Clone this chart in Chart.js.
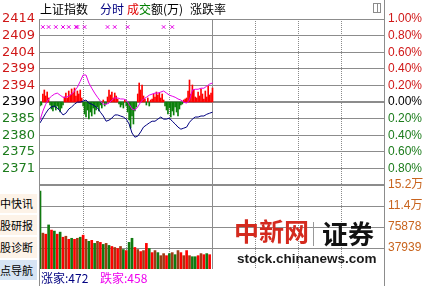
<!DOCTYPE html>
<html>
<head>
<meta charset="utf-8">
<script src="https://cdn.jsdelivr.net/npm/chart.js@4.4.1/dist/chart.umd.min.js"></script>
<style>
  html, body { margin:0; padding:0; background:#fff; }
  #wrap { position:relative; width:430px; height:286px; overflow:hidden; font-family:"Noto Sans CJK SC", sans-serif; }
  canvas { position:absolute; left:0; }
  #priceChart { top:0; z-index:2; }
  #volChart { top:170px; z-index:3; }
  .txt { position:absolute; white-space:nowrap; font-size:12px; line-height:14px; z-index:4; }
  .frame { position:absolute; width:1px; background:#8c8c8c; z-index:1; }
  .side { position:absolute; left:0; width:37px; font-size:11px; background:#fdf3e8; color:#000; overflow:hidden; white-space:nowrap; }
  .side.nav { background:#d6e4f4; }
  .logo { position:absolute; white-space:nowrap; z-index:5; }
</style>
</head>
<body>
<div id="wrap">
  <!-- title row -->
  <div class="txt" style="left:40px;top:2px;">上证指数</div>
  <div class="txt" style="left:100px;top:2px;color:#000080;">分时</div>
  <div class="txt" style="left:127px;top:2px;"><span style="color:#e00000">成</span><span style="color:#008000">交</span>额(万)</div>
  <div class="txt" style="left:190px;top:2px;">涨跌率</div>
  <div style="position:absolute;left:373px;top:3px;width:6px;height:8px;border:1px solid #8c8c8c;"></div>
  <div style="position:absolute;left:377px;top:3px;width:1px;height:10px;background:#8c8c8c;"></div>

  <!-- frame -->
  <div class="frame" style="left:39px;top:19px;height:267px;"></div>
  <div class="frame" style="left:384px;top:0;height:286px;"></div>

  <!-- cropped side menu -->
  <div class="side" style="top:194px;height:19px;line-height:19px;">中快讯</div>
  <div class="side" style="top:215px;height:20px;line-height:20px;">股研报</div>
  <div class="side" style="top:237px;height:21px;line-height:21px;">股诊断</div>
  <div class="side nav" style="top:260px;height:20px;line-height:20px;">点导航</div>

  <canvas id="priceChart" width="430" height="200"></canvas>
  <canvas id="volChart" width="430" height="116"></canvas>

  <!-- advance / decline counts -->
  <div class="txt" style="left:41px;top:271px;color:#000080;">涨家:472</div>
  <div class="txt" style="left:100px;top:271px;color:#ee00ee;">跌家:458</div>

  <!-- watermark -->
  <div class="logo" style="left:234px;top:214px;font-size:25px;line-height:32px;font-weight:700;color:#d42a1e;">中新网</div>
  <div class="logo" style="left:313px;top:222px;width:1px;height:24px;background:#999;"></div>
  <div class="logo" style="left:322px;top:217px;font-size:26px;line-height:32px;font-weight:700;color:#111;">证券</div>
  <div class="logo" style="left:237px;top:251px;font-family:'Liberation Sans',sans-serif;font-weight:700;font-size:13.5px;line-height:16px;color:#1a1a1a;">stock.chinanews.com</div>
</div>

<script>
/* ---------- DATA ---------- */
const prevClose = 2390.13;
const pctSteps = [-1, -0.8, -0.6, -0.4, -0.2, 0, 0.2, 0.4, 0.6, 0.8, 1];
// bottom -> top, same order as the ticks
const priceTickLabels = ["", "2371", "2375", "2380", "2385", "2390", "2394", "2399", "2404", "2409", "2414"];
const pctTickLabels = ["", "0.80%", "0.60%", "0.40%", "0.20%", "0.00%", "0.20%", "0.40%", "0.60%", "0.80%", "1.00%"];
const gridMinutes = [30, 60, 90, 150, 180, 210];
const noonMinutes = [120];

const lineMinutes = [0,2,4,6,8,10,12,14,16,18,20,22,24,26,28,30,32,34,36,38,40,42,44,46,48,50,52,54,56,58,
  60,62,64,66,68,70,72,74,76,78,80,82,84,86,88,90,92,94,96,98,100,102,104,106,108,110,112,114,116,118,120];
const indexLine = [2384.1,2385.5,2386.9,2388.1,2388.7,2389.0,2388.4,2387.5,2386.4,2386.9,
  2388.1,2388.7,2389.5,2390.1,2390.1,2390.4,2390.7,2389.8,2389.5,2389.0,
  2388.4,2387.2,2386.1,2384.6,2384.9,2385.5,2386.4,2386.4,2386.1,2385.8,
  2385.2,2383.8,2381.2,2380.0,2380.3,2381.5,2382.9,2383.5,2384.1,2384.6,
  2384.6,2385.2,2385.8,2385.2,2385.2,2385.5,2384.6,2383.8,2382.9,2382.3,
  2382.6,2382.9,2384.3,2385.2,2385.8,2385.8,2386.1,2386.1,2386.6,2386.9,2387.2];
const leadLine = [2384.9,2387.5,2389.5,2391.0,2391.8,2392.4,2392.7,2392.1,2391.5,2391.5,
  2391.8,2392.4,2393.3,2394.4,2396.1,2397.9,2397.9,2395.6,2394.1,2392.7,
  2391.5,2390.4,2389.5,2389.5,2389.8,2390.7,2391.3,2391.3,2391.0,2391.0,
  2390.7,2389.5,2388.1,2387.8,2388.7,2390.1,2391.0,2391.5,2392.1,2392.4,
  2392.7,2392.7,2393.0,2393.3,2392.7,2392.1,2391.8,2391.5,2391.0,2390.7,
  2390.1,2389.8,2390.7,2393.6,2393.8,2393.8,2394.1,2394.1,2394.7,2395.3,2395.6];
// one value per minute from 09:30, red up / green down
const powerBars = [-4,-3,8,12,6,10,4,-3,-7,-9,
  -5,-8,-4,-7,-10,-6,-3,5,9,4,
  11,7,13,9,14,6,11,8,12,4,
  -4,-12,-15,-8,-17,-10,-14,-6,-12,-8,
  -5,-9,-3,-6,2,-4,-2,5,12,7,
  10,4,9,6,3,-2,-5,-3,-6,2,
  -4,-10,-18,-26,-14,-22,-9,-5,8,19,
  12,17,6,3,-3,4,-4,2,3,8,
  5,10,7,9,4,8,2,-4,-8,-12,
  -6,-15,-9,-13,-5,-10,-14,-7,-3,-2,
  2,3,4,11,22,8,17,12,5,4,
  10,6,13,8,3,11,5,16,7,9,14];
const newsMinutes = [2, 6, 11, 16, 20, 25, 26, 31, 47, 52, 61, 86, 92];
const newsLevel = 75;

const volMinutes = [0,2,4,6,8,10,12,14,16,18,20,22,24,26,28,30,32,34,36,38,40,42,44,46,48,50,52,54,56,58,
  60,62,64,66,68,70,72,74,76,78,80,82,84,86,88,90,92,94,96,98,100,102,104,106,108,110,112,114,116,118];
const volumes = [140700,64800,62900,79600,70300,68500,62900,66600,57400,59200,
  53700,55500,53700,55500,57400,61100,53700,50000,51800,46300,
  50000,48100,44400,46300,42600,40700,38900,37000,40700,35200,
  33300,48100,55500,38900,35200,31500,33300,46300,37000,29600,
  33300,29600,24100,27800,24100,27800,29600,25900,33300,29600,
  24100,33300,24100,22200,22200,24100,27800,25900,27800,25900];
// 1 = up (red), -1 = down (green), 0 = flat (brown)
const volTrend = [-1,0,1,-1,1,-1,1,-1,1,0,
  1,-1,1,0,-1,1,0,-1,1,-1,
  0,1,-1,0,-1,1,0,1,0,-1,
  1,-1,-1,1,0,1,0,1,-1,1,
  0,-1,0,0,1,-1,0,-1,0,1,
  0,1,0,-1,-1,1,0,1,-1,1];
const volTicks = [0, 37939, 75878, 113817, 151756];
const volTickLabels = ["", "37939", "75878", "11.4万", "15.2万"];

/* ---------- STYLE ---------- */
const RED = "#d01818";
const GREEN = "#1c7c1c";
const NAVY = "#000080";
const PINK = "#e600e6";
const BROWN = "#a03a14";
const GRID = "#8c8c8c";

/* ---------- HELPERS ---------- */
function timeAxis(minutes, dash) {
  return {
    type: "linear", min: 0, max: 240, offset: false,
    afterBuildTicks: s => { s.ticks = minutes.map(v => ({ value: v })); },
    afterFit: s => { s.height = 0; },
    ticks: { display: false },
    grid: { color: dash.length ? "#8a8a8a" : GRID, drawTicks: false, offset: false },
    border: { display: false, dash: dash }
  };
}

function labelColor(c) {
  return c.index > 5 ? RED : c.index === 5 ? "#000" : GREEN;
}

const priceTicks = pctSteps.map(p => prevClose * (1 + p / 100));
const priceMin = priceTicks[0];
const priceMax = priceTicks[priceTicks.length - 1];

const common = {
  responsive: false,
  animation: false,
  events: [],
  plugins: { legend: { display: false }, tooltip: { enabled: false } }
};

/* ---------- PRICE PANEL ---------- */
new Chart(document.getElementById("priceChart"), {
  type: "bar",
  data: {
    datasets: [
      { type: "line", data: lineMinutes.map((m, i) => ({ x: m, y: indexLine[i] })),
        borderColor: NAVY, borderWidth: 1, pointRadius: 0, yAxisID: "yL", order: 1 },
      { type: "line", data: lineMinutes.map((m, i) => ({ x: m, y: leadLine[i] })),
        borderColor: PINK, borderWidth: 1, pointRadius: 0, yAxisID: "yL", order: 2 },
      { type: "line", data: newsMinutes.map(m => ({ x: m, y: newsLevel })), showLine: false,
        pointStyle: "crossRot", pointRadius: 2.5, borderColor: PINK, borderWidth: 1, yAxisID: "yPow", order: 0 },
      { type: "bar", data: powerBars.map((v, i) => ({ x: i, y: v })),
        backgroundColor: powerBars.map(v => v >= 0 ? "#ff0000" : "#0a800a"),
        barThickness: 1, yAxisID: "yPow", order: 3 }
    ]
  },
  options: {
    ...common,
    layout: { padding: { top: 19, bottom: 15, left: 0, right: 0 } },
    scales: {
      x: timeAxis(gridMinutes, [1, 1]),
      x2: timeAxis(noonMinutes, []),
      yL: {
        position: "left", min: priceMin, max: priceMax,
        afterBuildTicks: s => { s.ticks = priceTicks.map(v => ({ value: v })); },
        afterFit: s => { s.width = 40; },
        ticks: { autoSkip: false, padding: 5, color: labelColor,
          font: { family: "DejaVu Sans", size: 13 },
          callback: (v, i) => priceTickLabels[i] },
        grid: { color: GRID, drawTicks: false, lineWidth: c => (c.index === 0 || c.index === 5) ? 2 : 1 },
        border: { display: false }
      },
      yR: {
        position: "right", min: priceMin, max: priceMax,
        afterBuildTicks: s => { s.ticks = priceTicks.map(v => ({ value: v })); },
        afterFit: s => { s.width = 45; },
        ticks: { autoSkip: false, padding: 3, color: labelColor,
          font: { family: "Liberation Sans", size: 12 },
          callback: (v, i) => pctTickLabels[i] },
        grid: { display: false, drawTicks: false },
        border: { display: false }
      },
      yPow: { display: false, min: -83, max: 83 }
    }
  }
});

/* ---------- VOLUME PANEL ---------- */
new Chart(document.getElementById("volChart"), {
  type: "bar",
  data: {
    datasets: [{
      data: volMinutes.map((m, i) => ({ x: m, y: volumes[i] })),
      backgroundColor: volTrend.map(t => t > 0 ? "#ff0000" : t < 0 ? "#107a10" : BROWN),
      barThickness: 2, yAxisID: "yV"
    }]
  },
  options: {
    ...common,
    layout: { padding: { top: 15, bottom: 17, left: 40, right: 0 } },
    scales: {
      x: timeAxis(gridMinutes, [1, 1]),
      x2: timeAxis(noonMinutes, []),
      yV: {
        position: "right", min: 0, max: volTicks[volTicks.length - 1],
        afterBuildTicks: s => { s.ticks = volTicks.map(v => ({ value: v })); },
        afterFit: s => { s.width = 45; },
        ticks: { autoSkip: false, padding: 3, color: "#c8641e",
          font: { family: 'Liberation Sans, "Noto Sans CJK SC"', size: 12 },
          callback: (v, i) => volTickLabels[i] },
        grid: { color: GRID, drawTicks: false, lineWidth: c => c.index === 0 ? 0 : (c.index === 4 ? 2 : 1) },
        border: { display: false }
      }
    }
  }
});
</script>
</body>
</html>
